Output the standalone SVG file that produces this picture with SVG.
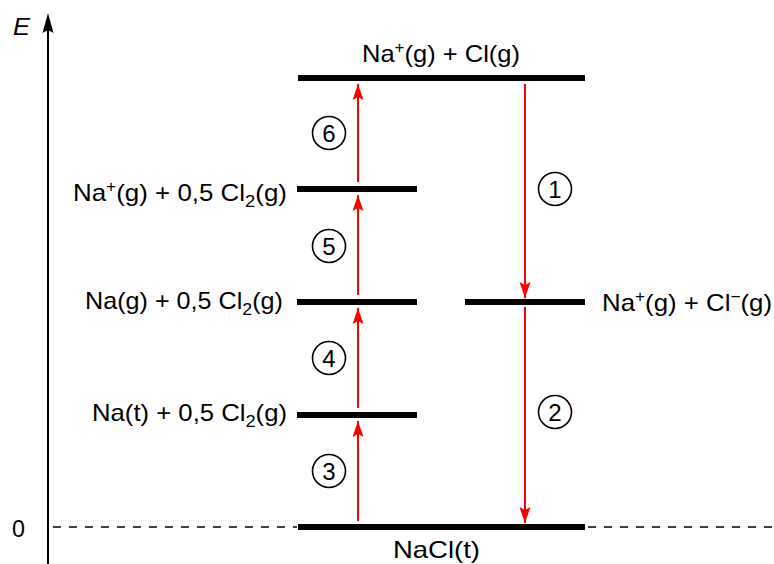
<svg xmlns="http://www.w3.org/2000/svg" width="774" height="564" viewBox="0 0 774 564">
<style>
.lvl{stroke:#000;stroke-width:6;fill:none}
.dash{stroke:#000;stroke-width:1.5;stroke-dasharray:8 8;fill:none}
.axis{stroke:#000;stroke-width:2;fill:none}
.arr{stroke:#ff0000;stroke-width:2;fill:none;marker-end:url(#ah)}
.lab{font-family:"Liberation Sans",Arial,sans-serif;font-size:24px;fill:#000}
.num{font-family:"Liberation Sans",Arial,sans-serif;font-size:24px;fill:#000;text-anchor:middle}
.circ{stroke:#000;stroke-width:1.6;fill:none}
</style>
<defs>
<marker id="ah" markerUnits="userSpaceOnUse" markerWidth="17" markerHeight="12" refX="16" refY="6" orient="auto">
<path d="M0,0.5 L16,6 L0,11.5 L3,6 Z" fill="#ff0000"/>
</marker>
</defs>
<rect width="774" height="564" fill="#fff"/>
<g id="axis">
<line class="axis" x1="48" y1="564" x2="48" y2="28"/>
<path d="M48,13 L53.5,33 L48,30 L42.5,33 Z" fill="#000"/>
<text class="lab" x="13" y="35" font-style="italic" textLength="17" lengthAdjust="spacingAndGlyphs">E</text>
<text class="lab" x="12" y="537" textLength="13" lengthAdjust="spacingAndGlyphs">0</text>
</g>
<g id="zero-line">
<line class="dash" x1="53" y1="527" x2="297" y2="527"/>
<line class="dash" x1="588" y1="527" x2="774" y2="527"/>
</g>
<g id="level-top">
<line class="lvl" x1="298" y1="78" x2="585" y2="78"/>
<text class="lab" x="362" y="62" textLength="158" lengthAdjust="spacingAndGlyphs">Na<tspan dy="-9" font-size="16">+</tspan><tspan dy="9">(g) + Cl(g)</tspan></text>
</g>
<g id="level-na-ion-cl2">
<line class="lvl" x1="297" y1="189" x2="417" y2="189"/>
<text class="lab" x="73" y="201" textLength="214" lengthAdjust="spacingAndGlyphs">Na<tspan dy="-9" font-size="16">+</tspan><tspan dy="9">(g) + 0,5 Cl</tspan><tspan dy="6" font-size="17">2</tspan><tspan dy="-6">(g)</tspan></text>
</g>
<g id="level-na-g-cl2">
<line class="lvl" x1="297" y1="302" x2="417" y2="302"/>
<text class="lab" x="85" y="309" textLength="198" lengthAdjust="spacingAndGlyphs">Na(g) + 0,5 Cl<tspan dy="6" font-size="17">2</tspan><tspan dy="-6">(g)</tspan></text>
</g>
<g id="level-ions">
<line class="lvl" x1="465" y1="302" x2="585" y2="302"/>
<text class="lab" x="602" y="311" textLength="170" lengthAdjust="spacingAndGlyphs">Na<tspan dy="-9" font-size="16">+</tspan><tspan dy="9">(g) + Cl</tspan><tspan dy="-9" font-size="16">−</tspan><tspan dy="9">(g)</tspan></text>
</g>
<g id="level-na-t-cl2">
<line class="lvl" x1="297" y1="415" x2="417" y2="415"/>
<text class="lab" x="92" y="421" textLength="195" lengthAdjust="spacingAndGlyphs">Na(t) + 0,5 Cl<tspan dy="6" font-size="17">2</tspan><tspan dy="-6">(g)</tspan></text>
</g>
<g id="level-nacl">
<line class="lvl" x1="298" y1="527" x2="585" y2="527"/>
<text class="lab" x="393" y="558" textLength="87" lengthAdjust="spacingAndGlyphs">NaCl(t)</text>
</g>
<g id="connectors">
<line class="arr" x1="358" y1="521" x2="358" y2="421"/>
<line class="arr" x1="358" y1="408" x2="358" y2="308"/>
<line class="arr" x1="358" y1="295" x2="358" y2="195"/>
<line class="arr" x1="358" y1="182" x2="358" y2="84"/>
<line class="arr" x1="525" y1="84" x2="525" y2="298"/>
<line class="arr" x1="525" y1="307" x2="525" y2="523"/>
</g>
<g id="step-labels">
<circle class="circ" cx="329" cy="133" r="16.5"/><text class="num" x="329" y="141.5">6</text>
<circle class="circ" cx="329" cy="246" r="16.5"/><text class="num" x="329" y="254.5">5</text>
<circle class="circ" cx="329" cy="358" r="16.5"/><text class="num" x="329" y="366.5">4</text>
<circle class="circ" cx="329" cy="471" r="16.5"/><text class="num" x="329" y="479.5">3</text>
<circle class="circ" cx="555" cy="189" r="16.5"/><text class="num" x="555" y="197.5">1</text>
<circle class="circ" cx="555" cy="412" r="16.5"/><text class="num" x="555" y="420.5">2</text>
</g>
</svg>
